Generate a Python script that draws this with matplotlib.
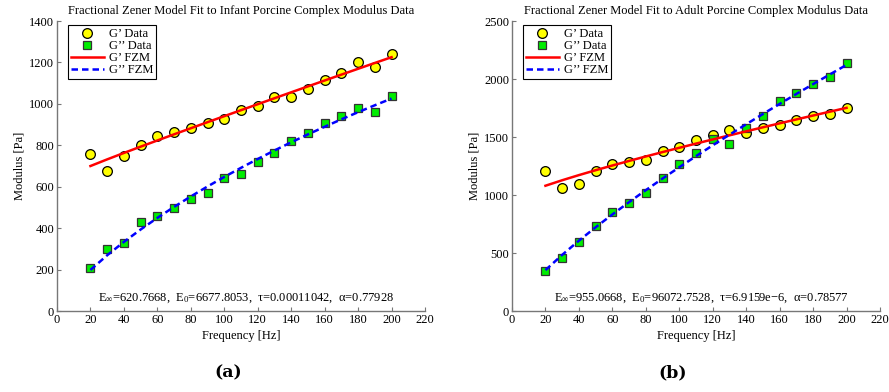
import matplotlib
matplotlib.use("Agg")
import matplotlib.pyplot as plt

plt.rcParams["font.family"] = ["Liberation Serif", "DejaVu Serif"]
plt.rcParams["mathtext.fontset"] = "custom"
plt.rcParams["mathtext.rm"] = "Liberation Serif"
plt.rcParams["mathtext.it"] = "Liberation Serif"

freq = [20, 30, 40, 50, 60, 70, 80, 90, 100, 110, 120, 130, 140, 150, 160, 170, 180, 190, 200]

# infant porcine tissue
infant_gp = [758, 674, 749, 800, 843, 863, 884, 906, 927, 969, 990, 1032, 1032, 1074, 1115, 1148, 1200, 1179, 1242]
infant_gpp = [209, 299, 330, 429, 459, 499, 539, 569, 641, 661, 720, 762, 821, 861, 910, 941, 981, 960, 1040]
infant_gp_fit = [699.9, 732.0, 763.0, 793.4, 823.3, 853.0, 882.3, 911.6, 940.6, 969.5,
                 998.3, 1027.1, 1055.8, 1084.3, 1112.7, 1141.1, 1169.3, 1197.4, 1225.3]
infant_gpp_fit = [198.1, 269.1, 333.7, 393.4, 449.5, 502.6, 553.0, 601.2, 647.2, 691.2,
                  733.8, 774.9, 814.4, 852.6, 889.4, 925.2, 959.8, 993.2, 1025.6]
infant_params = r"E$_\infty$=620.7668,  E$_0$=6677.8053,  τ=0.00011042,  α=0.77928"

# adult porcine tissue
adult_gp = [1204, 1057, 1098, 1203, 1266, 1286, 1303, 1377, 1411, 1474, 1518, 1558, 1537, 1580, 1606, 1646, 1683, 1697, 1749]
adult_gpp = [349, 460, 597, 734, 857, 934, 1020, 1143, 1266, 1360, 1480, 1443, 1580, 1683, 1811, 1877, 1960, 2017, 2137]
adult_gp_fit = [1079.8, 1127.2, 1171.5, 1213.7, 1254.4, 1293.9, 1332.3, 1370.0, 1406.9, 1443.2,
                1479.0, 1514.3, 1549.1, 1583.6, 1617.7, 1651.5, 1685.1, 1718.3, 1751.3]
adult_gpp_fit = [352.3, 484.0, 606.2, 721.7, 832.2, 938.6, 1041.6, 1141.7, 1239.3, 1334.7,
                 1428.2, 1519.7, 1609.7, 1698.2, 1785.3, 1871.1, 1955.8, 2039.3, 2121.8]
adult_params = r"E$_\infty$=955.0668,  E$_0$=96072.7528,  τ=6.9159e−6,  α=0.78577"

FS = 9


def panel(ax, title, gp, gpp, gp_fit, gpp_fit, params, ymax, ystep):
    ax.plot(freq, gp, "o", ms=7, mfc="#ffff00", mec="black", mew=0.9, label="G’ Data", zorder=3)
    ax.plot(freq, gpp, "s", ms=5.8, mfc="#00ee00", mec="#333333", mew=0.9, label="G’’ Data", zorder=3)
    ax.plot(freq, gp_fit, "-", color="#ff0000", lw=1.8, label="G’ FZM", zorder=4)
    ax.plot(freq, gpp_fit, "--", color="#0000ff", lw=1.8, dashes=(2.6, 1.6), label="G’’ FZM", zorder=4)

    ax.set_xlim(0, 220)
    ax.set_ylim(0, ymax)
    ax.set_xticks(range(0, 221, 20))
    ax.set_yticks(range(0, ymax + 1, ystep))
    ax.set_title(title, fontsize=FS, pad=5)
    ax.set_xlabel("Frequency [Hz]", fontsize=FS, labelpad=3)
    ax.set_ylabel("Modulus [Pa]", fontsize=FS, labelpad=3)
    ax.tick_params(direction="in", length=3, width=0.8, color="#777777", labelsize=FS, pad=2)
    for side in ("top", "right"):
        ax.spines[side].set_visible(False)
    for side in ("left", "bottom"):
        ax.spines[side].set_color("#777777")
        ax.spines[side].set_linewidth(1.0)

    ax.text(0.515, 0.034, params, transform=ax.transAxes, ha="center", va="baseline", fontsize=FS)

    leg = ax.legend(loc="upper left", bbox_to_anchor=(0.02, 1.0), fontsize=FS, frameon=True,
                    fancybox=False, edgecolor="black", framealpha=1, handlelength=2.6,
                    handletextpad=0.4, borderpad=0.25, labelspacing=0.0, borderaxespad=0.3)
    leg.get_frame().set_linewidth(0.8)


fig = plt.figure(figsize=(8.89, 3.92), dpi=100)
ax_a = fig.add_axes([57 / 889, 1 - 311 / 392, 368 / 889, 290 / 392])
ax_b = fig.add_axes([512 / 889, 1 - 311 / 392, 368 / 889, 290 / 392])

panel(ax_a, "Fractional Zener Model Fit to Infant Porcine Complex Modulus Data",
      infant_gp, infant_gpp, infant_gp_fit, infant_gpp_fit, infant_params, 1400, 200)
panel(ax_b, "Fractional Zener Model Fit to Adult Porcine Complex Modulus Data",
      adult_gp, adult_gpp, adult_gp_fit, adult_gpp_fit, adult_params, 2500, 500)

fig.text(228 / 889, 1 - 373 / 392, "(a)", ha="center", va="center", fontsize=12.5,
         fontweight="bold", family=["DejaVu Serif"])
fig.text(673 / 889, 1 - 373 / 392, "(b)", ha="center", va="center", fontsize=12.5,
         fontweight="bold", family=["DejaVu Serif"])

fig.savefig("out.png", dpi=100)
